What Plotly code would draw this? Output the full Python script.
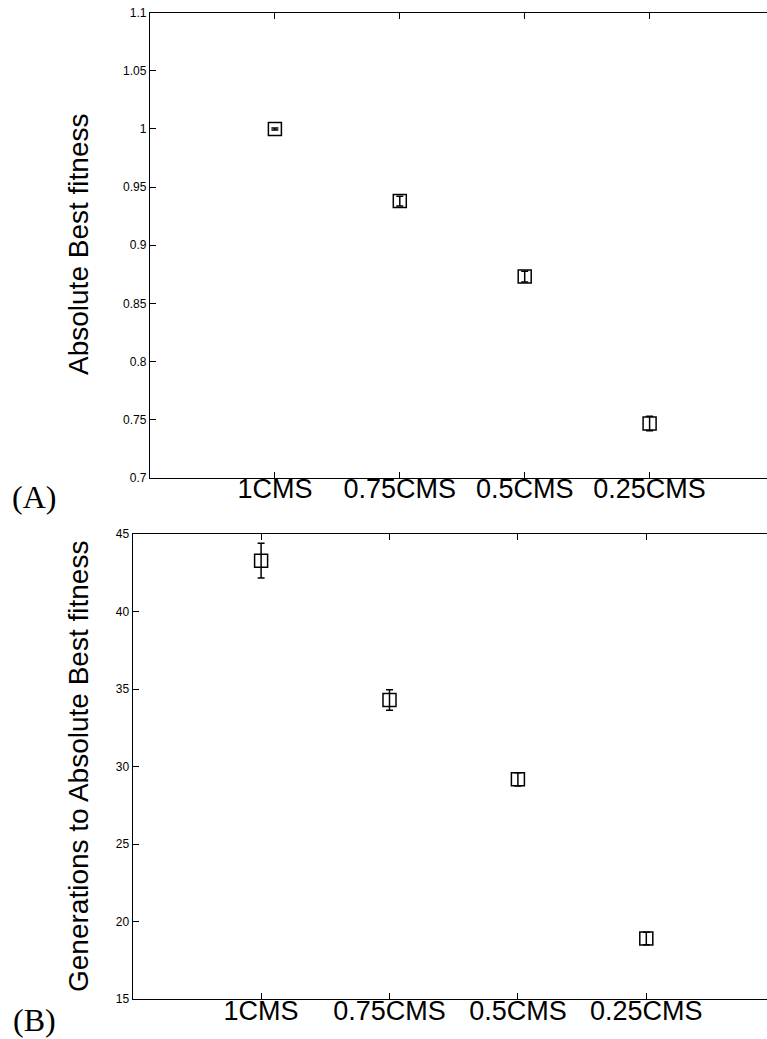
import plotly.graph_objects as go

categories = ["1CMS", "0.75CMS", "0.5CMS", "0.25CMS"]

fitness_mean = [1.000, 0.938, 0.873, 0.7466]
fitness_err = [0.0008, 0.0042, 0.0046, 0.0063]

gens_mean = [43.28, 34.29, 29.17, 18.9]
gens_err = [1.12, 0.66, 0.42, 0.40]

fitness_ticks = [0.7, 0.75, 0.8, 0.85, 0.9, 0.95, 1.0, 1.05, 1.1]
fitness_ticktext = ["0.7", "0.75", "0.8", "0.85", "0.9", "0.95", "1", "1.05", "1.1"]
gens_ticks = [15, 20, 25, 30, 35, 40, 45]

W, H = 767, 1039
SANS = "Liberation Sans, Arial, Helvetica, sans-serif"
SERIF = "Liberation Serif, Times New Roman, serif"

marker = dict(symbol="square-open", size=13, color="black", line=dict(width=1.5, color="black"))

fig = go.Figure()
fig.add_trace(go.Scatter(
    x=categories, y=fitness_mean, mode="markers", marker=marker,
    error_y=dict(type="data", array=fitness_err, visible=True, color="black", thickness=1.5, width=3.5),
    xaxis="x", yaxis="y", showlegend=False))
fig.add_trace(go.Scatter(
    x=categories, y=gens_mean, mode="markers", marker=marker,
    error_y=dict(type="data", array=gens_err, visible=True, color="black", thickness=1.5, width=3.5),
    xaxis="x2", yaxis="y2", showlegend=False))

def px_y(p):
    return 1 - p / H

common_x = dict(type="category", categoryorder="array", categoryarray=categories,
                range=[-1, 3.94], showgrid=False, zeroline=False, automargin=False,
                showline=True, linecolor="black", linewidth=1.3, mirror="ticks",
                ticks="inside", ticklen=6, tickwidth=1, tickcolor="black",
                ticklabelstandoff=-13,
                tickfont=dict(family=SANS, size=27, color="black"))
common_y = dict(showgrid=False, zeroline=False, showline=True, linecolor="black",
                automargin=False,
                linewidth=1.3, ticks="inside", ticklen=6, tickwidth=1, tickcolor="black",
                tickfont=dict(family=SANS, size=12, color="black"))

fig.update_layout(
    width=W, height=H,
    margin=dict(l=0, r=0, t=0, b=0, autoexpand=False),
    paper_bgcolor="white", plot_bgcolor="white",
    xaxis=dict(domain=[150 / W, 1], anchor="y", **common_x),
    yaxis=dict(domain=[px_y(477.7), px_y(12.7)], anchor="x", range=[0.7, 1.1],
               tickvals=fitness_ticks, ticktext=fitness_ticktext, **common_y),
    xaxis2=dict(domain=[132.7 / W, 1], anchor="y2", **common_x),
    yaxis2=dict(domain=[px_y(999), px_y(534)], anchor="x2", range=[15, 45],
                tickvals=gens_ticks, **common_y),
)

fig.add_annotation(text="Absolute Best fitness", textangle=-90, xref="paper", yref="paper",
                   x=78 / W, y=px_y(245), xanchor="center", yanchor="middle", showarrow=False,
                   font=dict(family=SANS, size=28, color="black"))
fig.add_annotation(text="Generations to Absolute Best fitness", textangle=-90, xref="paper", yref="paper",
                   x=78 / W, y=px_y(767), xanchor="center", yanchor="middle", showarrow=False,
                   font=dict(family=SANS, size=28, color="black"))
fig.add_annotation(text="(A)", xref="paper", yref="paper", x=34 / W, y=px_y(497),
                   xanchor="center", yanchor="middle", showarrow=False,
                   font=dict(family=SERIF, size=32, color="black"))
fig.add_annotation(text="(B)", xref="paper", yref="paper", x=34 / W, y=px_y(1020),
                   xanchor="center", yanchor="middle", showarrow=False,
                   font=dict(family=SERIF, size=32, color="black"))

fig.write_html("out.html")
